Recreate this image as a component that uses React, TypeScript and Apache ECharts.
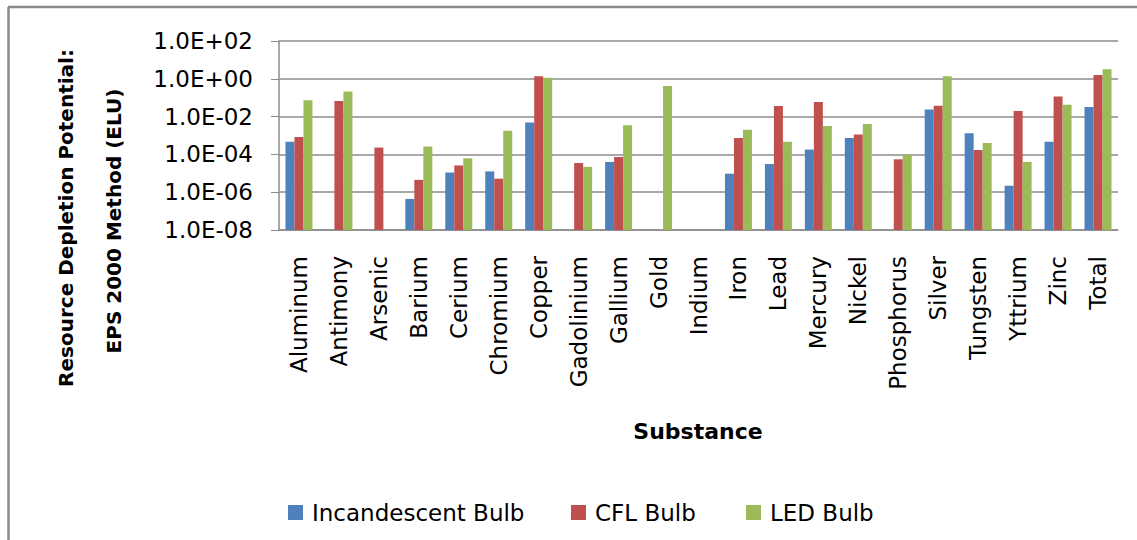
import React, { useEffect, useRef } from "react";
import * as echarts from "echarts";

const categories = [
  "Aluminum", "Antimony", "Arsenic", "Barium", "Cerium", "Chromium", "Copper",
  "Gadolinium", "Gallium", "Gold", "Indium", "Iron", "Lead", "Mercury", "Nickel",
  "Phosphorus", "Silver", "Tungsten", "Yttrium", "Zinc", "Total",
];

const incandescent = [
  4.7e-4, null, null, 4.4e-7, 1.1e-5, 1.26e-5, 4.9e-3, null, 4.0e-5, null, null,
  9.5e-6, 3.1e-5, 1.8e-4, 7.4e-4, null, 0.024, 1.3e-3, 2.2e-6, 4.7e-4, 0.032,
];
const cfl = [
  8.3e-4, 0.066, 2.3e-4, 4.5e-6, 2.6e-5, 5.2e-6, 1.38, 3.5e-5, 7.3e-5, null, null,
  7.4e-4, 0.036, 0.059, 1.14e-3, 5.5e-5, 0.037, 1.7e-4, 0.02, 0.115, 1.6,
];
const led = [
  0.074, 0.21, null, 2.6e-4, 6.2e-5, 1.8e-3, 1.15, 2.2e-5, 3.5e-3, 0.42, null,
  2.0e-3, 4.7e-4, 3.2e-3, 4.0e-3, 9.6e-5, 1.38, 4.0e-4, 4.0e-5, 0.042, 3.2,
];

const seriesNames = ["Incandescent Bulb", "CFL Bulb", "LED Bulb"];
const seriesColors = ["#4F81BD", "#C0504D", "#9BBB59"];
const yTitleLines = ["Resource Depletion Potential:", "EPS 2000 Method (ELU)"];
const xTitle = "Substance";

const FONT = "DejaVu Sans";

function expLabel(v: number): string {
  const e = Math.round(Math.log10(v));
  const sign = e >= 0 ? "+" : "-";
  return "1.0E" + sign + String(Math.abs(e)).padStart(2, "0");
}

export default function App() {
  const ref = useRef<HTMLDivElement>(null);
  useEffect(() => {
    if (!ref.current) return;
    const chart = echarts.init(ref.current, null, { renderer: "svg" });
    const data = [incandescent, cfl, led];
    const legendLefts = [283, 566, 741];
    chart.setOption({
      animation: false,
      backgroundColor: "#ffffff",
      grid: { left: 279, right: 19, top: 41, bottom: 310, containLabel: false },
      legend: seriesNames.map((n, i) => ({
        data: [n],
        left: legendLefts[i],
        top: 496,
        icon: "rect",
        itemWidth: 15,
        itemHeight: 15,
        textStyle: { fontFamily: FONT, fontSize: 23, color: "#000", padding: [4, 0, 0, 4] },
      })),
      xAxis: {
        type: "category",
        data: categories,
        axisLine: { lineStyle: { color: "#8c8c8c", width: 1.5 } },
        axisTick: { show: false },
        axisLabel: {
          rotate: 90,
          margin: 26,
          interval: 0,
          fontFamily: FONT,
          fontSize: 23,
          color: "#000",
        },
      },
      yAxis: {
        type: "log",
        logBase: 10,
        min: 1e-8,
        max: 100,
        interval: 2,
        startValue: 1e-8,
        axisLine: { show: true, lineStyle: { color: "#8c8c8c", width: 1.5 } },
        axisTick: { show: true, length: 8, lineStyle: { color: "#8c8c8c" } },
        splitLine: { show: true, lineStyle: { color: "#8c8c8c", width: 1.5 } },
        axisLabel: {
          margin: 26,
          fontFamily: FONT,
          fontSize: 23,
          color: "#000",
          formatter: (v: number) => expLabel(v),
        },
      },
      series: seriesNames.map((n, i) => ({
        name: n,
        type: "bar",
        data: data[i],
        barWidth: 9,
        barGap: "0%",
        itemStyle: { color: seriesColors[i] },
      })),
      graphic: [
        { type: "line", shape: { x1: 8.5, y1: 7, x2: 8.5, y2: 540 }, style: { stroke: "#8a8a8a", lineWidth: 2.5 } },
        { type: "line", shape: { x1: 8, y1: 7, x2: 1137, y2: 7 }, style: { stroke: "#8a8a8a", lineWidth: 2.5 } },
        {
          type: "text", x: 66, y: 218, rotation: Math.PI / 2,
          style: { text: yTitleLines[0], fontFamily: FONT, fontSize: 20, fontWeight: "bold", fill: "#000", textAlign: "center", textVerticalAlign: "middle" },
        },
        {
          type: "text", x: 114, y: 221, rotation: Math.PI / 2,
          style: { text: yTitleLines[1], fontFamily: FONT, fontSize: 20, fontWeight: "bold", fill: "#000", textAlign: "center", textVerticalAlign: "middle" },
        },
        {
          type: "text", x: 698, y: 431,
          style: { text: xTitle, fontFamily: FONT, fontSize: 22, fontWeight: "bold", fill: "#000", textAlign: "center", textVerticalAlign: "middle" },
        },
      ],
    });
    return () => chart.dispose();
  }, []);
  return (
    <div
      ref={ref}
      style={{ position: "absolute", left: 0, top: 0, width: 1137, height: 540, background: "#fff" }}
    />
  );
}
